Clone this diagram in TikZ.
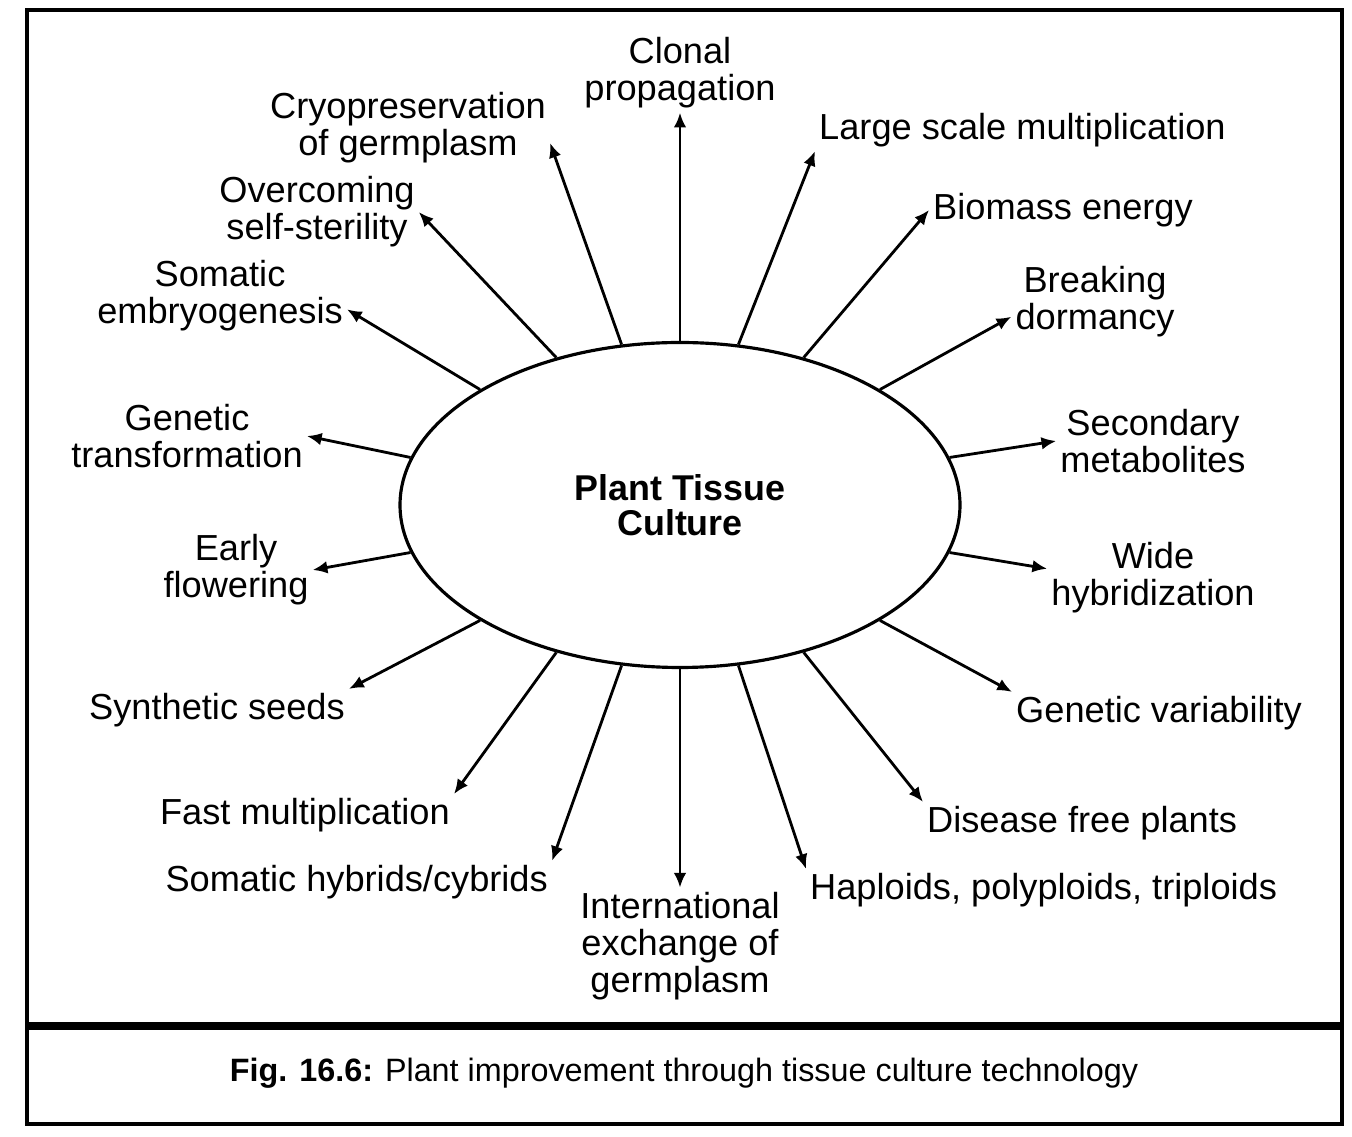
\documentclass[tikz,border=0pt]{standalone}
\usepackage{fontspec}
\setmainfont{Liberation Sans}
\usetikzlibrary{arrows.meta, shapes.geometric}
\tikzset{
  lbl/.style={font=\fontsize{10.3}{10.6}\selectfont, align=center, inner sep=1pt},
  arr/.style={-{Latex[length=4.2pt,width=3.6pt]}, line width=0.8pt},
}

\begin{document}
\begin{tikzpicture}[x=0.1mm, y=-0.1mm]
  \useasboundingbox (0,0) rectangle (1352,1137);
  % frame with caption box
  \draw[line width=0.9pt] (27,10) rectangle (1342,1124);
  \draw[line width=2pt] (27,1026) -- (1342,1026);
  \node[font=\fontsize{9.2}{11}\selectfont] (cap) at (684,1073)
    {\textbf{Fig. 16.6:} Plant improvement through tissue culture technology};

  % centre
  \node[ellipse, draw, line width=0.9pt, minimum width=5.6cm, minimum height=3.25cm,
    inner sep=0pt, align=center, font=\bfseries\fontsize{10.2}{10}\selectfont]
    (ptc) at (680,505) {Plant Tissue\\Culture};

  % right half
  \node[lbl] (clonal) at (680,73) {Clonal\\propagation};
  \node[lbl, anchor=west] (large) at (815,130) {Large scale multiplication};
  \node[lbl, anchor=west] (bio) at (929,210) {Biomass energy};
  \node[lbl] (brk) at (1095,302) {Breaking\\dormancy};
  \node[lbl] (sec) at (1153,441) {Secondary\\metabolites};
  \node[lbl] (wide) at (1153,578) {Wide\\hybridization};
  \node[lbl, anchor=west] (gv) at (1012,713) {Genetic variability};
  \node[lbl, anchor=west] (dis) at (923,823) {Disease free plants};
  \node[lbl, anchor=west] (hap) at (806,890) {Haploids, polyploids, triploids};
  \node[lbl] (intl) at (680,946) {International\\exchange of\\germplasm};

  % left half
  \node[lbl, anchor=east] (somh) at (552,882) {Somatic hybrids/cybrids};
  \node[lbl, anchor=east] (fast) at (454,815) {Fast multiplication};
  \node[lbl, anchor=east] (syn) at (349,710) {Synthetic seeds};
  \node[lbl] (early) at (236,570) {Early\\flowering};
  \node[lbl] (gtr) at (187,436) {Genetic\\transformation};
  \node[lbl] (semb) at (220,296) {Somatic\\embryogenesis};
  \node[lbl] (over) at (317,212) {Overcoming\\self-sterility};
  \node[lbl] (cryo) at (408,128) {Cryopreservation\\of germplasm};

  % arrows out of the ellipse
  \foreach \ang/\lab/\anc in {90/clonal/south, 70/large/south west, 50/bio/west,
      30/brk/190, 10/sec/west, -10/wide/175, -30/gv/north west, -50/dis/north west,
      -70/hap/north west, -90/intl/north, -110/somh/north east, -130/fast/8,
      -150/syn/north east, -170/early/east, 170/gtr/east, 150/semb/-6,
      130/over/east, 110/cryo/-6}
    \draw[arr] (ptc.\ang) -- (\lab.\anc);
\end{tikzpicture}
\end{document}
